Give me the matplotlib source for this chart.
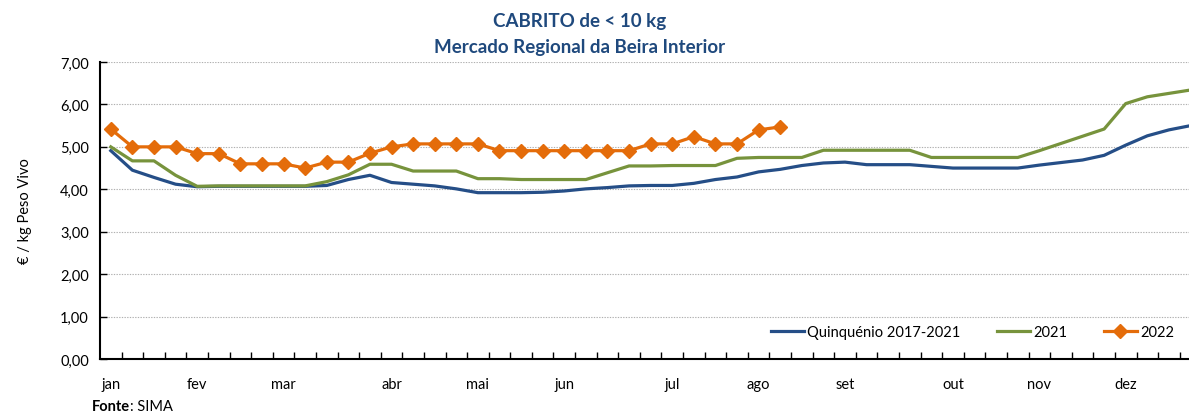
import numpy as np
import matplotlib
matplotlib.use("Agg")
import matplotlib.pyplot as plt

plt.rcParams['font.family'] = ['Lato', 'DejaVu Sans']

months = ["jan", "fev", "mar", "abr", "mai", "jun", "jul", "ago", "set", "out", "nov", "dez"]
month_week_idx = [0, 4, 8, 13, 17, 21, 26, 30, 34, 39, 43, 47]

quinquenio = [4.91, 4.45, 4.28, 4.12, 4.06, 4.07, 4.07, 4.07, 4.07, 4.07, 4.09, 4.23, 4.33,
              4.16, 4.12, 4.08, 4.01, 3.92, 3.92, 3.92, 3.93, 3.96, 4.01, 4.04, 4.08, 4.09,
              4.09, 4.14, 4.23, 4.29, 4.41, 4.47, 4.56, 4.62, 4.64, 4.58, 4.58, 4.58, 4.54,
              4.50, 4.50, 4.50, 4.50, 4.57, 4.63, 4.69, 4.80, 5.04, 5.26, 5.40, 5.50]
ano2021 = [5.00, 4.67, 4.67, 4.33, 4.07, 4.08, 4.08, 4.08, 4.08, 4.08, 4.18, 4.34, 4.59,
           4.59, 4.43, 4.43, 4.43, 4.25, 4.25, 4.23, 4.23, 4.23, 4.23, 4.39, 4.55, 4.55,
           4.56, 4.56, 4.56, 4.73, 4.75, 4.75, 4.75, 4.92, 4.92, 4.92, 4.92, 4.92, 4.75,
           4.75, 4.75, 4.75, 4.75, 4.91, 5.08, 5.25, 5.42, 6.02, 6.18, 6.26, 6.34]
ano2022 = [5.42, 5.00, 5.00, 5.00, 4.84, 4.84, 4.60, 4.60, 4.60, 4.50, 4.64, 4.64, 4.85,
           5.00, 5.07, 5.07, 5.07, 5.07, 4.91, 4.91, 4.91, 4.91, 4.91, 4.91, 4.91, 5.07,
           5.07, 5.24, 5.07, 5.07, 5.40, 5.47]

fig = plt.figure(figsize=(11.89, 4.14), dpi=100)
ax = fig.add_axes([100/1189, 1-360/414, 1-100/1189, (360-63)/414])

blue = "#254E87"
green = "#77933C"
orange = "#E46C0A"

ax.plot(np.arange(len(quinquenio)), quinquenio, color=blue, lw=2.3, label="Quinquénio 2017-2021", zorder=3)
ax.plot(np.arange(len(ano2021)), ano2021, color=green, lw=2.3, label="2021", zorder=3)
ax.plot(np.arange(len(ano2022)), ano2022, color=orange, lw=2.3, marker="D", markersize=7,
        label="2022", zorder=4)

ax.set_xlim(-0.5, 49.93)
ax.set_ylim(0, 7)
yt = np.arange(0, 8)
ax.set_yticks(yt)
ax.set_yticklabels([f"{v:.2f}".replace(".", ",") for v in yt], fontsize=10.5)
for v in yt[1:]:
    ax.axhline(v, color="#B0B0B0", lw=0.8, ls=(0, (1.2, 1.2)), zorder=1)

ax.set_xticks(month_week_idx)
ax.set_xticklabels(months, fontsize=10.5)
ax.set_xticks(np.arange(0.5, 50, 1), minor=True)
ax.tick_params(axis='x', which='major', length=0, pad=13)
ax.tick_params(axis='x', which='minor', direction='in', length=5, width=1, color='black')
ax.tick_params(axis='y', direction='in', length=5, width=1, pad=8)

for s in ["top", "right"]:
    ax.spines[s].set_visible(False)
for s in ["left", "bottom"]:
    ax.spines[s].set_linewidth(1.5)
    ax.spines[s].set_color("black")

ax.set_ylabel("€ / kg Peso Vivo", fontsize=10.5, labelpad=20)

fig.text(580/1189, 1-22/414, "CABRITO de < 10 kg", ha="center", va="center",
         fontsize=13.5, fontweight="bold", color="#1F497D")
fig.text(580/1189, 1-48/414, "Mercado Regional da Beira Interior", ha="center", va="center",
         fontsize=13.5, fontweight="bold", color="#1F497D")

t1 = fig.text(92/1189, 1-407/414, "Fonte", ha="left", va="center", fontsize=10.5, fontweight="bold")
ax.annotate(": SIMA", xy=(1, 0.5), xycoords=t1, ha="left", va="center", fontsize=10.5)

leg = ax.legend(loc="center right", bbox_to_anchor=(1180/1189, 1-333/414), bbox_transform=fig.transFigure,
                ncol=3, frameon=False, fontsize=10.5, handlelength=2.3, handletextpad=0.2,
                columnspacing=2.5, borderaxespad=0)

fig.savefig("out.png", dpi=100)
